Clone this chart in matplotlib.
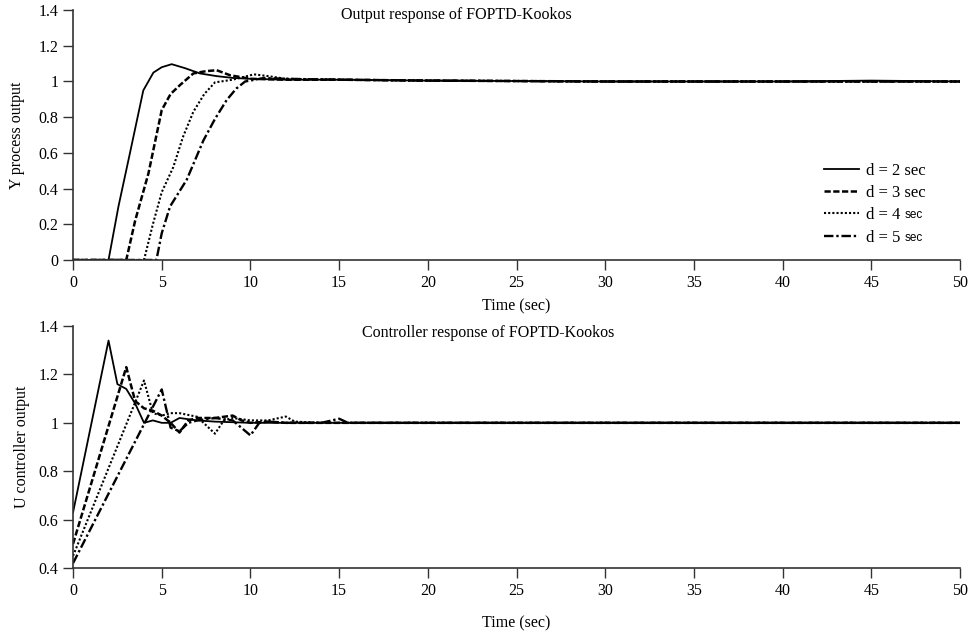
import matplotlib
matplotlib.use("Agg")
import matplotlib.pyplot as plt

# Output response (Y) for each dead time d
t_y2 = [0, 2, 2.56, 3.21, 3.96, 4.53, 5.0, 5.56, 6.3, 7.16, 8.1, 9, 10, 12, 15, 20, 30, 40, 45, 50]
y_d2 = [0, 0, 0.30, 0.60, 0.95, 1.05, 1.08, 1.097, 1.075, 1.045, 1.03, 1.02, 1.015, 1.01, 1.01, 1.005, 1.0, 1.0, 1.005, 1.0]

t_y3 = [0, 3, 3.5, 4.25, 5.0, 5.5, 6.03, 6.78, 7.5, 8.1, 8.85, 10, 12, 15, 20, 30, 40, 50]
y_d3 = [0, 0, 0.22, 0.485, 0.84, 0.93, 0.98, 1.045, 1.058, 1.063, 1.035, 1.015, 1.01, 1.01, 1.005, 1.0, 1.0, 1.0]

t_y4 = [0, 4, 4.5, 5.0, 5.65, 6.2, 6.78, 7.4, 8.0, 9.0, 10.2, 11, 12, 15, 20, 30, 40, 50]
y_d4 = [0, 0, 0.20, 0.38, 0.52, 0.69, 0.83, 0.93, 0.995, 1.01, 1.04, 1.03, 1.015, 1.01, 1.005, 1.0, 1.0, 1.0]

t_y5 = [0, 4.7, 5.0, 5.47, 6.41, 7.35, 8.0, 8.66, 9.2, 9.7, 10.8, 12, 15, 20, 30, 40, 50]
y_d5 = [0, 0, 0.15, 0.30, 0.45, 0.67, 0.79, 0.896, 0.96, 1.0, 1.02, 1.015, 1.01, 1.005, 1.0, 1.0, 1.0]

# Controller response (U)
t_u2 = [0, 2, 2.5, 3, 3.5, 4, 4.5, 5, 5.5, 6, 7, 8, 10, 12, 15, 20, 50]
u_d2 = [0.63, 1.34, 1.16, 1.14, 1.08, 1.0, 1.01, 1.0, 1.0, 1.02, 1.01, 1.005, 1.0, 1.0, 1.0, 1.0, 1.0]

t_u3 = [0, 3, 3.5, 4, 4.5, 5, 5.5, 6, 6.5, 7, 8, 9, 9.5, 10, 11, 12, 13, 15, 20, 50]
u_d3 = [0.50, 1.23, 1.09, 1.06, 1.05, 1.03, 1.0, 0.96, 1.01, 1.02, 1.02, 1.03, 1.01, 1.0, 1.005, 1.0, 1.0, 1.0, 1.0, 1.0]

t_u4 = [0, 4, 4.5, 5, 5.5, 6, 7, 8, 8.5, 9, 10, 11, 12, 12.5, 14, 16, 20, 50]
u_d4 = [0.45, 1.175, 1.04, 1.03, 1.04, 1.04, 1.025, 0.955, 1.01, 1.02, 1.01, 1.01, 1.026, 1.005, 1.0, 1.0, 1.0, 1.0]

t_u5 = [0, 5, 5.5, 6, 6.5, 7, 8, 9, 10, 10.5, 11, 12, 13, 14, 15, 15.5, 17, 20, 50]
u_d5 = [0.42, 1.138, 0.98, 0.965, 1.0, 1.01, 1.02, 1.01, 0.948, 1.0, 1.005, 1.0, 1.0, 1.0, 1.017, 1.0, 1.0, 1.0, 1.0]

x_ticks = list(range(0, 55, 5))
y_ticks_top = [0, 0.2, 0.4, 0.6, 0.8, 1, 1.2, 1.4]
y_ticks_bot = [0.4, 0.6, 0.8, 1, 1.2, 1.4]

styles = [
    dict(linestyle="-", lw=1.3),
    dict(linestyle=(0, (2.5, 1)), lw=1.8),
    dict(linestyle=(0, (1, 1)), lw=1.5),
    dict(linestyle=(0, (4, 1.2, 1, 1.2)), lw=1.7),
]

plt.rcParams["font.family"] = "Liberation Serif"
plt.rcParams["font.size"] = 11.5

fig = plt.figure(figsize=(9.74, 6.31), dpi=100)
ax1 = fig.add_axes([0.075, 0.588, 0.9106, 0.396])
ax2 = fig.add_axes([0.075, 0.0998, 0.9106, 0.3835])


def style_axes(ax):
    for side in ["top", "right"]:
        ax.spines[side].set_visible(False)
    for side in ["left", "bottom"]:
        ax.spines[side].set_linewidth(1.2)
        ax.spines[side].set_color("#333333")
    ax.tick_params(direction="out", length=7, width=1.0, color="#333333", labelsize=11.5)
    ax.set_xlim(0, 50)
    ax.set_xticks(x_ticks)
    ax.set_xticklabels([str(v) for v in x_ticks])


# top panel
top_data = [(t_y2, y_d2), (t_y3, y_d3), (t_y4, y_d4), (t_y5, y_d5)]
labels = ["d = 2 sec", "d = 3 sec", "d = 4", "d = 5"]
for (t, y), st, lab in zip(top_data, styles, labels):
    ax1.plot(t, y, color="black", label=lab, **st)
style_axes(ax1)
ax1.set_ylim(0, 1.4)
ax1.set_yticks(y_ticks_top)
ax1.set_yticklabels(["0", "0.2", "0.4", "0.6", "0.8", "1", "1.2", "1.4"])
ax1.set_xlabel("Time (sec)", labelpad=6)
ax1.set_ylabel("Y process output", labelpad=10)
ax1.text(21.6, 1.37, "Output response of FOPTD-Kookos", ha="center", va="center", fontsize=11.5)
leg = ax1.legend(loc="upper left", bbox_to_anchor=(0.83, 0.45), frameon=False,
                 handlelength=2.1, handletextpad=0.4, labelspacing=0.38, fontsize=12)

# bottom panel
bot_data = [(t_u2, u_d2), (t_u3, u_d3), (t_u4, u_d4), (t_u5, u_d5)]
for (t, u), st in zip(bot_data, styles):
    ax2.plot(t, u, color="black", **st)
style_axes(ax2)
ax2.set_ylim(0.4, 1.4)
ax2.set_yticks(y_ticks_bot)
ax2.set_yticklabels(["0.4", "0.6", "0.8", "1", "1.2", "1.4"])
ax2.set_xlabel("Time (sec)", labelpad=12)
ax2.set_ylabel("U controller output", labelpad=6)
ax2.text(23.4, 1.37, "Controller response of FOPTD-Kookos", ha="center", va="center", fontsize=11.5)

# small sans "sec" after the last two legend entries
fig.canvas.draw()
renderer = fig.canvas.get_renderer()
inv = fig.transFigure.inverted()
for txt in leg.get_texts()[2:]:
    bb = txt.get_window_extent(renderer)
    x, y = inv.transform((bb.x1 + 4, bb.y0 + 2))
    fig.text(x, y, "sec", fontsize=8.5, family="Liberation Sans", ha="left", va="bottom")

fig.savefig("out.png", dpi=100)
